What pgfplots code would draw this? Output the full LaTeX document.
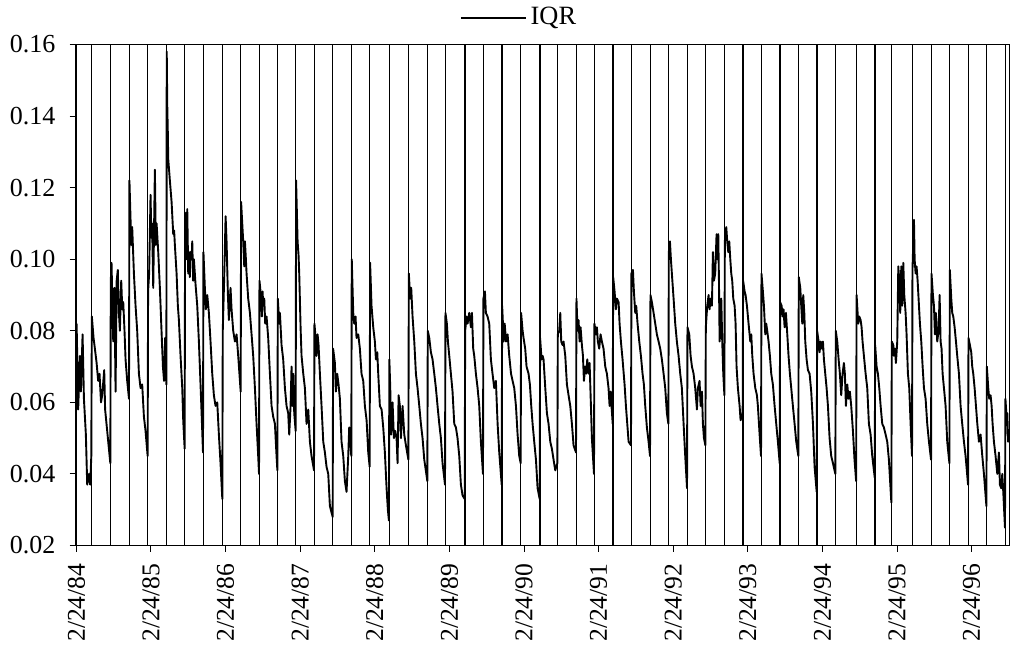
\documentclass[border=0pt]{standalone}
\usepackage{fontspec}
\setmainfont{Liberation Serif}
\usepackage{pgfplots}
\pgfplotsset{compat=1.18}
\begin{document}
\begin{tikzpicture}
\begin{axis}[
  scale only axis,
  width=466.9pt, height=250.5pt,
  xmin=-0.012, xmax=12.505,
  ymin=0.02, ymax=0.16,
  ytick={0.02,0.04,0.06,0.08,0.10,0.12,0.14,0.16},
  xtick={0,1,...,12},
  xticklabels={2/24/84,2/24/85,2/24/86,2/24/87,2/24/88,2/24/89,2/24/90,2/24/91,2/24/92,2/24/93,2/24/94,2/24/95,2/24/96},
  x tick label style={rotate=90, anchor=east, font=\fontsize{12.8}{15}\selectfont},
  y tick label style={font=\fontsize{13}{15}\selectfont},
  yticklabel style={/pgf/number format/.cd, fixed, fixed zerofill, precision=2, assume math mode=true},
  xticklabel shift=2.5pt,
  yticklabel shift=3.5pt,
  tick align=outside,
  major tick length=3pt,
  xtick pos=bottom, ytick pos=left,
  axis line style={line width=0.5pt},
  tick style={line width=0.5pt, black},
  legend style={at={(0.4760,1.0535)}, anchor=center, draw=none, fill=none, font=\fontsize{13.2}{15}\selectfont},
  legend image code/.code={\draw[#1] (0pt,0pt) -- (32.5pt,0pt);},
]
\addplot[black, ycomb, line width=0.6pt, forget plot] coordinates {
(0.003,0.2) (0.204,0.2) (0.458,0.2) (0.708,0.2) (0.958,0.2) (1.209,0.2) (1.454,0.2) (1.700,0.2) (1.959,0.2) (2.205,0.2) (2.451,0.2) (2.697,0.2) (2.942,0.2) (3.188,0.2) (3.438,0.2) (3.688,0.2) (3.934,0.2) (4.192,0.2) (4.453,0.2) (4.707,0.2) (4.944,0.2) (5.208,0.2) (5.453,0.2) (5.704,0.2) (5.958,0.2) (6.213,0.2) (6.450,0.2) (6.700,0.2) (6.941,0.2) (7.192,0.2) (7.437,0.2) (7.692,0.2) (7.938,0.2) (8.188,0.2) (8.434,0.2) (8.689,0.2) (8.934,0.2) (9.180,0.2) (9.430,0.2) (9.680,0.2) (9.926,0.2) (10.176,0.2) (10.455,0.2) (10.704,0.2) (10.927,0.2) (11.204,0.2) (11.459,0.2) (11.705,0.2) (11.955,0.2) (12.201,0.2) (12.450,0.2)
};
\addplot[black, line width=0.95pt, line join=round] coordinates {
(0.003,0.082) (0.024,0.058) (0.047,0.073) (0.060,0.063) (0.083,0.079) (0.101,0.061) (0.127,0.051) (0.145,0.037) (0.168,0.040) (0.185,0.037) (0.200,0.045)
(0.207,0.084) (0.230,0.078) (0.248,0.075) (0.271,0.071) (0.292,0.066) (0.310,0.068) (0.330,0.060) (0.346,0.062) (0.373,0.069) (0.385,0.058) (0.413,0.052) (0.436,0.047) (0.455,0.043)
(0.461,0.094) (0.471,0.099) (0.485,0.085) (0.494,0.077) (0.510,0.092) (0.525,0.063) (0.540,0.094) (0.555,0.097) (0.570,0.085) (0.583,0.080) (0.601,0.094) (0.615,0.086) (0.628,0.088) (0.645,0.080) (0.659,0.072) (0.681,0.066) (0.705,0.061)
(0.711,0.122) (0.726,0.111) (0.735,0.104) (0.748,0.109) (0.771,0.096) (0.793,0.087) (0.815,0.080) (0.838,0.068) (0.860,0.064) (0.882,0.065) (0.905,0.056) (0.927,0.052) (0.955,0.045)
(0.961,0.091) (0.975,0.096) (0.994,0.118) (1.005,0.106) (1.015,0.110) (1.030,0.092) (1.052,0.125) (1.065,0.104) (1.075,0.110) (1.097,0.102) (1.119,0.092) (1.141,0.080) (1.160,0.070) (1.175,0.066) (1.190,0.078) (1.206,0.065)
(1.211,0.158) (1.218,0.143) (1.226,0.135) (1.231,0.128) (1.253,0.122) (1.276,0.116) (1.298,0.107) (1.310,0.108) (1.320,0.104) (1.343,0.096) (1.360,0.087) (1.374,0.083) (1.396,0.073) (1.419,0.064) (1.432,0.055) (1.451,0.047)
(1.457,0.111) (1.468,0.113) (1.477,0.100) (1.486,0.114) (1.499,0.096) (1.508,0.102) (1.520,0.095) (1.530,0.102) (1.545,0.100) (1.553,0.105) (1.565,0.094) (1.575,0.100) (1.597,0.093) (1.620,0.087) (1.642,0.077) (1.664,0.065) (1.680,0.056) (1.697,0.046)
(1.703,0.102) (1.722,0.092) (1.736,0.086) (1.754,0.090) (1.776,0.085) (1.798,0.077) (1.821,0.068) (1.843,0.062) (1.865,0.059) (1.888,0.060) (1.910,0.051) (1.932,0.043) (1.956,0.033)
(1.962,0.080) (1.980,0.094) (2.000,0.112) (2.013,0.105) (2.031,0.090) (2.044,0.083) (2.066,0.092) (2.080,0.086) (2.102,0.080) (2.125,0.077) (2.147,0.079) (2.169,0.073) (2.202,0.063)
(2.208,0.116) (2.218,0.112) (2.236,0.105) (2.250,0.098) (2.259,0.105) (2.272,0.100) (2.281,0.096) (2.303,0.089) (2.326,0.085) (2.348,0.079) (2.370,0.073) (2.393,0.064) (2.415,0.054) (2.437,0.045) (2.448,0.040)
(2.454,0.094) (2.473,0.090) (2.487,0.084) (2.496,0.091) (2.504,0.087) (2.518,0.089) (2.531,0.082) (2.549,0.084) (2.571,0.078) (2.594,0.068) (2.616,0.059) (2.638,0.056) (2.661,0.054) (2.683,0.045) (2.694,0.041)
(2.700,0.089) (2.719,0.082) (2.728,0.085) (2.750,0.076) (2.772,0.072) (2.795,0.064) (2.817,0.059) (2.839,0.057) (2.853,0.051) (2.871,0.059) (2.884,0.070) (2.898,0.059) (2.907,0.068) (2.920,0.057) (2.939,0.052)
(2.945,0.122) (2.965,0.105) (2.978,0.101) (2.987,0.096) (3.005,0.081) (3.018,0.073) (3.041,0.068) (3.063,0.064) (3.085,0.054) (3.108,0.058) (3.130,0.049) (3.152,0.045) (3.185,0.041)
(3.191,0.082) (3.210,0.077) (3.219,0.073) (3.233,0.079) (3.246,0.076) (3.264,0.068) (3.286,0.059) (3.309,0.049) (3.331,0.046) (3.353,0.042) (3.376,0.040) (3.398,0.031) (3.435,0.028)
(3.441,0.075) (3.465,0.071) (3.478,0.063) (3.496,0.068) (3.514,0.065) (3.532,0.061) (3.554,0.049) (3.577,0.045) (3.599,0.038) (3.621,0.035) (3.644,0.045) (3.657,0.053) (3.685,0.045)
(3.691,0.100) (3.711,0.085) (3.724,0.082) (3.742,0.084) (3.755,0.078) (3.778,0.079) (3.800,0.075) (3.822,0.068) (3.845,0.066) (3.867,0.059) (3.890,0.055) (3.912,0.046) (3.931,0.042)
(3.937,0.099) (3.956,0.087) (3.979,0.081) (4.001,0.077) (4.015,0.072) (4.033,0.074) (4.046,0.068) (4.068,0.059) (4.091,0.058) (4.113,0.053) (4.135,0.046) (4.158,0.036) (4.175,0.030) (4.189,0.027)
(4.195,0.072) (4.207,0.064) (4.220,0.051) (4.229,0.059) (4.238,0.060) (4.256,0.050) (4.274,0.052) (4.292,0.050) (4.305,0.043) (4.319,0.062) (4.336,0.059) (4.350,0.050) (4.372,0.059) (4.395,0.051) (4.417,0.048) (4.450,0.044)
(4.456,0.096) (4.475,0.089) (4.488,0.092) (4.506,0.084) (4.529,0.077) (4.551,0.068) (4.573,0.064) (4.596,0.059) (4.618,0.054) (4.640,0.050) (4.663,0.044) (4.704,0.038)
(4.710,0.080) (4.730,0.078) (4.752,0.074) (4.774,0.072) (4.797,0.068) (4.819,0.064) (4.841,0.059) (4.864,0.054) (4.886,0.050) (4.908,0.043) (4.941,0.037)
(4.947,0.085) (4.966,0.082) (4.980,0.077) (4.998,0.073) (5.020,0.068) (5.042,0.063) (5.065,0.054) (5.087,0.053) (5.109,0.050) (5.132,0.045) (5.154,0.037) (5.176,0.034) (5.205,0.033)
(5.211,0.080) (5.231,0.084) (5.244,0.082) (5.266,0.085) (5.288,0.081) (5.302,0.085) (5.319,0.075) (5.333,0.073) (5.355,0.068) (5.378,0.064) (5.400,0.059) (5.422,0.049) (5.450,0.040)
(5.456,0.089) (5.476,0.091) (5.489,0.085) (5.511,0.084) (5.534,0.082) (5.556,0.072) (5.578,0.068) (5.601,0.064) (5.623,0.066) (5.646,0.054) (5.668,0.046) (5.701,0.037)
(5.707,0.087) (5.728,0.077) (5.741,0.082) (5.759,0.077) (5.780,0.079) (5.802,0.073) (5.826,0.068) (5.847,0.066) (5.869,0.064) (5.892,0.059) (5.914,0.051) (5.936,0.045) (5.955,0.043)
(5.961,0.085) (5.981,0.080) (5.994,0.078) (6.016,0.075) (6.034,0.070) (6.061,0.068) (6.079,0.065) (6.097,0.059) (6.115,0.054) (6.137,0.049) (6.160,0.044) (6.182,0.036) (6.210,0.033)
(6.216,0.078) (6.235,0.072) (6.250,0.073) (6.262,0.072) (6.285,0.064) (6.307,0.057) (6.329,0.054) (6.352,0.049) (6.374,0.047) (6.396,0.044) (6.419,0.041) (6.447,0.043)
(6.453,0.079) (6.472,0.080) (6.486,0.085) (6.499,0.077) (6.517,0.076) (6.530,0.077) (6.553,0.073) (6.575,0.065) (6.597,0.062) (6.620,0.059) (6.642,0.054) (6.664,0.048) (6.697,0.046)
(6.703,0.089) (6.718,0.080) (6.731,0.083) (6.745,0.077) (6.758,0.081) (6.776,0.076) (6.790,0.073) (6.803,0.066) (6.821,0.070) (6.834,0.068) (6.848,0.072) (6.865,0.068) (6.879,0.071) (6.897,0.059) (6.910,0.050) (6.938,0.040)
(6.944,0.082) (6.964,0.079) (6.977,0.081) (6.990,0.077) (7.008,0.075) (7.026,0.079) (7.044,0.077) (7.066,0.075) (7.089,0.070) (7.111,0.068) (7.133,0.064) (7.147,0.059) (7.160,0.063) (7.189,0.054)
(7.195,0.095) (7.214,0.091) (7.232,0.086) (7.245,0.089) (7.268,0.088) (7.281,0.082) (7.299,0.077) (7.321,0.072) (7.348,0.065) (7.366,0.059) (7.384,0.054) (7.402,0.049) (7.434,0.048)
(7.440,0.096) (7.460,0.097) (7.473,0.091) (7.491,0.085) (7.504,0.087) (7.522,0.082) (7.545,0.077) (7.567,0.073) (7.589,0.068) (7.607,0.065) (7.625,0.059) (7.647,0.053) (7.670,0.049) (7.689,0.045)
(7.695,0.090) (7.714,0.088) (7.737,0.085) (7.759,0.082) (7.781,0.079) (7.804,0.077) (7.826,0.075) (7.848,0.072) (7.871,0.068) (7.893,0.064) (7.915,0.057) (7.935,0.054)
(7.941,0.102) (7.956,0.105) (7.969,0.100) (7.982,0.096) (8.005,0.089) (8.027,0.082) (8.049,0.077) (8.072,0.073) (8.094,0.068) (8.116,0.064) (8.139,0.054) (8.161,0.045) (8.185,0.036)
(8.191,0.081) (8.215,0.079) (8.233,0.073) (8.251,0.070) (8.273,0.068) (8.295,0.064) (8.318,0.058) (8.331,0.064) (8.353,0.066) (8.367,0.059) (8.385,0.063) (8.398,0.054) (8.412,0.050) (8.431,0.048)
(8.437,0.081) (8.456,0.087) (8.474,0.090) (8.487,0.086) (8.501,0.089) (8.519,0.087) (8.532,0.102) (8.546,0.094) (8.563,0.096) (8.581,0.107) (8.590,0.100) (8.604,0.107) (8.613,0.094) (8.622,0.077) (8.635,0.081) (8.644,0.089) (8.657,0.077) (8.671,0.068) (8.686,0.062)
(8.692,0.105) (8.711,0.109) (8.724,0.105) (8.738,0.102) (8.751,0.105) (8.765,0.100) (8.778,0.096) (8.791,0.094) (8.805,0.089) (8.823,0.087) (8.836,0.082) (8.849,0.070) (8.867,0.064) (8.890,0.059) (8.903,0.055) (8.931,0.057)
(8.937,0.094) (8.957,0.091) (8.970,0.090) (8.988,0.087) (9.010,0.082) (9.033,0.077) (9.046,0.079) (9.060,0.073) (9.077,0.068) (9.100,0.064) (9.122,0.062) (9.135,0.059) (9.158,0.051) (9.177,0.045)
(9.183,0.096) (9.202,0.091) (9.216,0.087) (9.234,0.079) (9.247,0.082) (9.260,0.080) (9.278,0.077) (9.296,0.073) (9.314,0.068) (9.336,0.065) (9.359,0.059) (9.381,0.054) (9.403,0.049) (9.427,0.043)
(9.433,0.088) (9.453,0.087) (9.466,0.084) (9.479,0.086) (9.493,0.081) (9.511,0.085) (9.529,0.079) (9.546,0.073) (9.564,0.068) (9.582,0.064) (9.604,0.059) (9.627,0.054) (9.649,0.049) (9.677,0.045)
(9.683,0.095) (9.703,0.092) (9.716,0.087) (9.730,0.082) (9.743,0.090) (9.757,0.085) (9.770,0.077) (9.788,0.072) (9.806,0.069) (9.828,0.068) (9.850,0.063) (9.873,0.054) (9.895,0.042) (9.923,0.035)
(9.929,0.080) (9.949,0.077) (9.962,0.074) (9.975,0.077) (9.993,0.075) (10.007,0.077) (10.020,0.072) (10.038,0.068) (10.056,0.064) (10.074,0.059) (10.096,0.050) (10.118,0.045) (10.141,0.043) (10.173,0.040)
(10.179,0.080) (10.199,0.077) (10.217,0.072) (10.234,0.068) (10.252,0.062) (10.270,0.068) (10.288,0.071) (10.301,0.068) (10.315,0.059) (10.333,0.065) (10.351,0.061) (10.368,0.063) (10.386,0.059) (10.409,0.052) (10.430,0.044) (10.452,0.038)
(10.458,0.090) (10.480,0.082) (10.494,0.084) (10.512,0.083) (10.525,0.081) (10.538,0.077) (10.556,0.073) (10.579,0.068) (10.601,0.064) (10.623,0.054) (10.646,0.051) (10.668,0.045) (10.701,0.039)
(10.707,0.076) (10.726,0.070) (10.744,0.068) (10.762,0.064) (10.780,0.059) (10.802,0.054) (10.824,0.053) (10.847,0.051) (10.869,0.049) (10.891,0.044) (10.910,0.037) (10.924,0.032)
(10.930,0.077) (10.950,0.076) (10.958,0.073) (10.972,0.075) (10.985,0.071) (11.003,0.077) (11.017,0.098) (11.030,0.094) (11.043,0.085) (11.057,0.098) (11.070,0.087) (11.084,0.099) (11.097,0.090) (11.115,0.085) (11.128,0.079) (11.146,0.068) (11.164,0.064) (11.182,0.054) (11.201,0.045)
(11.207,0.097) (11.227,0.111) (11.236,0.100) (11.249,0.096) (11.262,0.098) (11.276,0.094) (11.294,0.087) (11.307,0.082) (11.325,0.077) (11.343,0.070) (11.361,0.064) (11.383,0.061) (11.405,0.054) (11.428,0.049) (11.456,0.044)
(11.462,0.096) (11.481,0.090) (11.495,0.087) (11.508,0.079) (11.521,0.085) (11.539,0.077) (11.557,0.080) (11.571,0.090) (11.584,0.077) (11.597,0.075) (11.611,0.068) (11.629,0.064) (11.651,0.059) (11.673,0.049) (11.702,0.043)
(11.708,0.097) (11.727,0.089) (11.740,0.085) (11.754,0.084) (11.772,0.081) (11.790,0.077) (11.807,0.073) (11.830,0.068) (11.852,0.059) (11.874,0.054) (11.897,0.049) (11.919,0.045) (11.952,0.037)
(11.958,0.078) (11.977,0.076) (11.995,0.074) (12.008,0.070) (12.022,0.068) (12.040,0.064) (12.058,0.059) (12.076,0.054) (12.098,0.049) (12.120,0.051) (12.143,0.045) (12.165,0.040) (12.198,0.031)
(12.204,0.070) (12.223,0.064) (12.236,0.061) (12.254,0.062) (12.268,0.059) (12.281,0.054) (12.299,0.049) (12.321,0.045) (12.344,0.040) (12.366,0.046) (12.379,0.037) (12.397,0.036) (12.411,0.040) (12.424,0.035) (12.447,0.025)
(12.453,0.061) (12.468,0.056) (12.478,0.057) (12.490,0.049) (12.503,0.052)
};
\addlegendentry{IQR}
\end{axis}
\pgfresetboundingbox
\path[use as bounding box] ([shift={(-37.75pt,-54.75pt)}]current axis.south west) rectangle ([shift={(1.85pt,22.25pt)}]current axis.north east);
\end{tikzpicture}
\end{document}
